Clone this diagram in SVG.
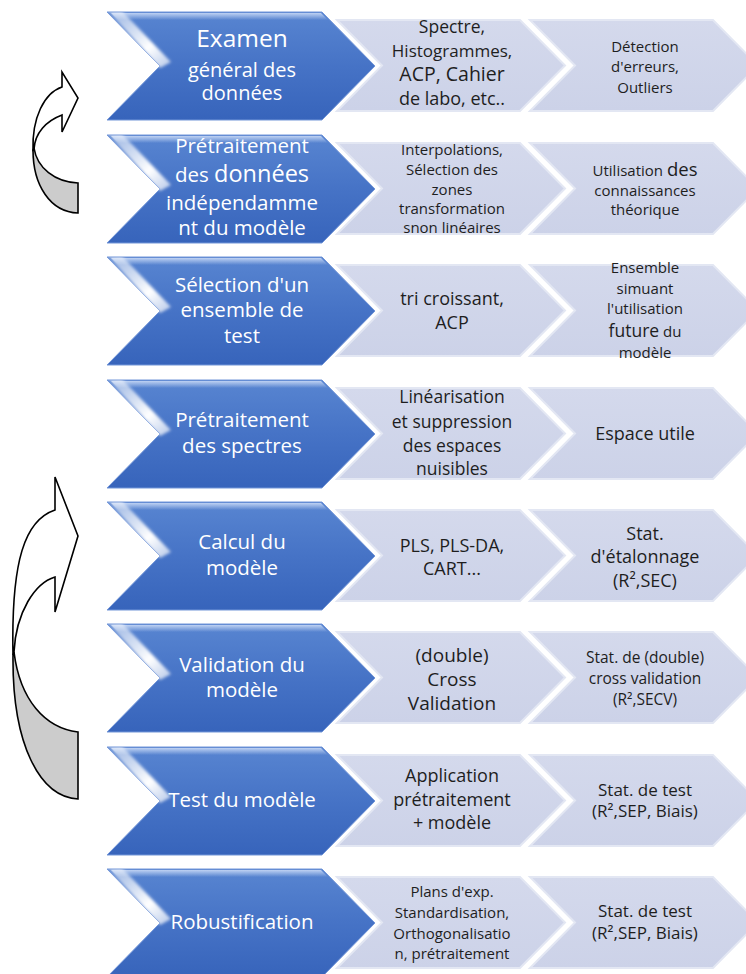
<svg xmlns="http://www.w3.org/2000/svg" xmlns:xlink="http://www.w3.org/1999/xlink" width="746" height="974" viewBox="0 0 746 974">
<style>
.bt{font-family:"Open Sans","Noto Sans",sans-serif;fill:#ffffff;text-anchor:middle;font-size:20.5px}
.gt{font-family:"Open Sans","Noto Sans",sans-serif;fill:#1e1e1e;text-anchor:middle;font-size:15px}
.arrF{fill:#ffffff;stroke:#000;stroke-width:1.6;stroke-linejoin:miter}
.arrB{fill:#cccccc;stroke:#000;stroke-width:1.6}
</style>
<defs>
<linearGradient id="blueFill" x1="0" y1="0" x2="0" y2="1">
<stop offset="0" stop-color="#5885d1"/>
<stop offset="0.5" stop-color="#4673c6"/>
<stop offset="1" stop-color="#3764bb"/>
</linearGradient>
<linearGradient id="topHi" x1="0" y1="0" x2="0" y2="1">
<stop offset="0" stop-color="#c3d5f4" stop-opacity="0.95"/>
<stop offset="1" stop-color="#c3d5f4" stop-opacity="0"/>
</linearGradient>
<linearGradient id="diagHi" x1="0" y1="0" x2="1" y2="1">
<stop offset="0" stop-color="#ffffff" stop-opacity="0.35"/>
<stop offset="0.65" stop-color="#ffffff" stop-opacity="1"/>
<stop offset="1" stop-color="#ffffff" stop-opacity="0.6"/>
</linearGradient>
<linearGradient id="grayFill" x1="0" y1="0" x2="0" y2="1">
<stop offset="0" stop-color="#d4d9ec"/>
<stop offset="1" stop-color="#ccd2e8"/>
</linearGradient>
<filter id="soft" x="-0.3" y="-0.3" width="1.6" height="1.6">
<feGaussianBlur stdDeviation="1.8"/>
</filter>
<clipPath id="blueClip">
<path d="M0,0 H215 L268,54 L215,108 H0 L53,54 Z"/>
</clipPath>
<g id="blueShape">
<path d="M0,0 H215 L268,54 L215,108 H0 L53,54 Z" fill="url(#blueFill)" stroke="#7396d8" stroke-width="1"/>
<g clip-path="url(#blueClip)">
<path d="M4,1 H214 L221,8 H11 Z" fill="url(#topHi)"/>
<path d="M0,-2 L14,-2 L64,50 L53,56 Z" fill="url(#diagHi)" filter="url(#soft)"/>
</g>
</g>
<g id="grayShape">
<path d="M0,0 H183 L228,45.5 L183,91 H0 L45,45.5 Z" fill="url(#grayFill)" stroke="#e3e7f3" stroke-width="2"/>
</g>
</defs>

<g id="connectors">
<g id="loop-small">
<path class="arrB" d="M34,148 C37,168 55,182 78,183 L78,213 C50,212 33,185 33,150 Z"/>
<path class="arrF" d="M33,150 C32,118 44,93 62,87 L62,72 L78,98 L62,132 L62,115 C46,121 35,133 34,149 Z"/>
</g>
<g id="loop-large">
<path class="arrB" d="M14,652 C20,700 45,728 78,732 L78,799 C40,797 12,745 13,655 Z"/>
<path class="arrF" d="M13,655 C11,560 25,520 55,510 L55,477 L78,536 L55,612 L55,577 C35,583 16,612 14,652 Z"/>
</g>
</g>

<g id="row1">
<use xlink:href="#grayShape" x="530" y="20"/>
<use xlink:href="#grayShape" x="337" y="20"/>
<use xlink:href="#blueShape" x="107" y="12"/>
<text class="bt"><tspan x="242" y="47" font-size="24.5">Examen</tspan><tspan x="242" y="77" font-size="20">général des</tspan><tspan x="242" y="100" font-size="20">données</tspan></text>
<text class="gt"><tspan x="452" y="33" font-size="17.5">Spectre,</tspan><tspan x="452" y="57" font-size="17">Histogrammes,</tspan><tspan x="452" y="81" font-size="19.5">ACP, Cahier</tspan><tspan x="452" y="105" font-size="18">de labo, etc..</tspan></text>
<text class="gt"><tspan x="645" y="52">Détection</tspan><tspan x="645" y="72">d'erreurs,</tspan><tspan x="645" y="93">Outliers</tspan></text>
</g>

<g id="row2">
<use xlink:href="#grayShape" x="530" y="143"/>
<use xlink:href="#grayShape" x="337" y="143"/>
<use xlink:href="#blueShape" x="107" y="135"/>
<text class="bt"><tspan x="242" y="153">Prétraitement</tspan><tspan x="242" y="182">des <tspan font-size="23.5">données</tspan></tspan><tspan x="242" y="210">indépendamme</tspan><tspan x="242" y="235">nt du modèle</tspan></text>
<text class="gt"><tspan x="452" y="155">Interpolations,</tspan><tspan x="452" y="175">Sélection des</tspan><tspan x="452" y="195">zones</tspan><tspan x="452" y="214">transformation</tspan><tspan x="452" y="233">snon linéaires</tspan></text>
<text class="gt"><tspan x="645" y="176">Utilisation <tspan font-size="18.5">des</tspan></tspan><tspan x="645" y="196">connaissances</tspan><tspan x="645" y="215">théorique</tspan></text>
</g>

<g id="row3">
<use xlink:href="#grayShape" x="530" y="265"/>
<use xlink:href="#grayShape" x="337" y="265"/>
<use xlink:href="#blueShape" x="107" y="257"/>
<text class="bt"><tspan x="242" y="292">Sélection d'un</tspan><tspan x="242" y="317">ensemble de</tspan><tspan x="242" y="343">test</tspan></text>
<text class="gt" style="font-size:18px"><tspan x="452" y="305">tri croissant,</tspan><tspan x="452" y="329">ACP</tspan></text>
<text class="gt"><tspan x="645" y="273">Ensemble</tspan><tspan x="645" y="294">simuant</tspan><tspan x="645" y="314">l'utilisation</tspan><tspan x="645" y="337"><tspan font-size="17.5">future</tspan> du</tspan><tspan x="645" y="358">modèle</tspan></text>
</g>

<g id="row4">
<use xlink:href="#grayShape" x="530" y="388"/>
<use xlink:href="#grayShape" x="337" y="388"/>
<use xlink:href="#blueShape" x="107" y="380"/>
<text class="bt"><tspan x="242" y="427">Prétraitement</tspan><tspan x="242" y="453">des spectres</tspan></text>
<text class="gt" style="font-size:17.5px"><tspan x="452" y="403">Linéarisation</tspan><tspan x="452" y="428">et suppression</tspan><tspan x="452" y="452">des espaces</tspan><tspan x="452" y="475">nuisibles</tspan></text>
<text class="gt" style="font-size:18px"><tspan x="645" y="440">Espace utile</tspan></text>
</g>

<g id="row5">
<use xlink:href="#grayShape" x="530" y="510"/>
<use xlink:href="#grayShape" x="337" y="510"/>
<use xlink:href="#blueShape" x="107" y="502"/>
<text class="bt"><tspan x="242" y="549">Calcul du</tspan><tspan x="242" y="575">modèle</tspan></text>
<text class="gt" style="font-size:18px"><tspan x="452" y="552">PLS, PLS-DA,</tspan><tspan x="452" y="575">CART...</tspan></text>
<text class="gt" style="font-size:18px"><tspan x="645" y="540">Stat.</tspan><tspan x="645" y="563">d'étalonnage</tspan><tspan x="645" y="587">(R²,SEC)</tspan></text>
</g>

<g id="row6">
<use xlink:href="#grayShape" x="530" y="632"/>
<use xlink:href="#grayShape" x="337" y="632"/>
<use xlink:href="#blueShape" x="107" y="624"/>
<text class="bt"><tspan x="242" y="672">Validation du</tspan><tspan x="242" y="697">modèle</tspan></text>
<text class="gt" style="font-size:19px"><tspan x="452" y="662">(double)</tspan><tspan x="452" y="686">Cross</tspan><tspan x="452" y="710">Validation</tspan></text>
<text class="gt" style="font-size:15.5px"><tspan x="645" y="663">Stat. de (double)</tspan><tspan x="645" y="684">cross validation</tspan><tspan x="645" y="705">(R²,SECV)</tspan></text>
</g>

<g id="row7">
<use xlink:href="#grayShape" x="530" y="755"/>
<use xlink:href="#grayShape" x="337" y="755"/>
<use xlink:href="#blueShape" x="107" y="747"/>
<text class="bt"><tspan x="242" y="807">Test du modèle</tspan></text>
<text class="gt" style="font-size:18px"><tspan x="452" y="782">Application</tspan><tspan x="452" y="806">prétraitement</tspan><tspan x="452" y="829">+ modèle</tspan></text>
<text class="gt" style="font-size:17px"><tspan x="645" y="796">Stat. de test</tspan><tspan x="645" y="817">(R²,SEP, Biais)</tspan></text>
</g>

<g id="row8">
<use xlink:href="#grayShape" x="530" y="877"/>
<use xlink:href="#grayShape" x="337" y="877"/>
<use xlink:href="#blueShape" x="107" y="869"/>
<text class="bt"><tspan x="242" y="929">Robustification</tspan></text>
<text class="gt"><tspan x="452" y="897">Plans d'exp.</tspan><tspan x="452" y="918">Standardisation,</tspan><tspan x="452" y="939">Orthogonalisatio</tspan><tspan x="452" y="959">n, prétraitement</tspan></text>
<text class="gt" style="font-size:17px"><tspan x="645" y="917">Stat. de test</tspan><tspan x="645" y="939">(R²,SEP, Biais)</tspan></text>
</g>
</svg>
